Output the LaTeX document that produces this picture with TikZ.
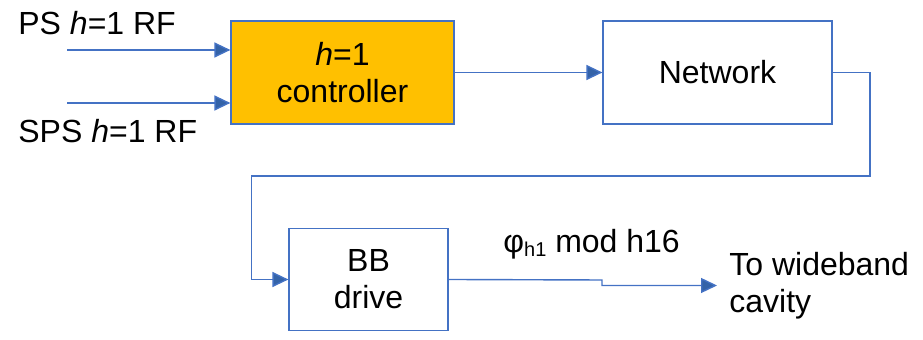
\documentclass[tikz,border=0pt]{standalone}
\usepackage{fontspec}
\setmainfont{Liberation Sans}
\usetikzlibrary{positioning,arrows.meta}

\definecolor{lineblue}{HTML}{4472C4}
\definecolor{tipblue}{HTML}{3463A8}
\definecolor{ctrlorange}{HTML}{FFC000}

\tikzset{
	blockpicture/.style = {
		x = 0.5pt,
		y = -0.5pt,
		font = \fontsize{16}{18.5}\selectfont,
		arrow/.style = {
			draw = lineblue,
			line width = 0.7pt,
			-{Triangle[length=8pt, width=7.5pt, fill=tipblue]},
		},
		wire/.style = {
			draw = lineblue,
			line width = 0.7pt,
		}
	},
	blocknode/.style = {
		rectangle,
		draw = lineblue,
		line width = 0.6pt,
		align = center,
		inner sep = 0pt
	},
	ctrlnode/.style = {
		fill = ctrlorange
	},
	labelnode/.style = {
		inner sep = 0pt,
		anchor = base west
	}
}

\begin{document}
\begin{tikzpicture}[blockpicture]
	\useasboundingbox (0,0) rectangle (923,340);

	\node[blocknode, ctrlnode, minimum width = 111.5pt, minimum height = 51.5pt] (ctrl) at (342.5,72.5) {\textit{h}=1\\controller};
	\node[blocknode, minimum width = 114.5pt, minimum height = 51.5pt] (net) at (717.5,72.5) {Network};
	\node[blocknode, minimum width = 79.5pt, minimum height = 51pt] (bb) at (368.5,279.5) {BB\\drive};

	\node[labelnode] (ps) at (18,35) {PS \textit{h}=1 RF};
	\node[labelnode] (sps) at (18,143) {SPS \textit{h}=1 RF};

	\coordinate (psin) at (67,50);
	\coordinate (spsin) at (67,103);
	\coordinate (turnR) at (870,176);
	\coordinate (turnL) at (251.5,176);
	\coordinate (jog) at (602,280);
	\coordinate (cav) at (717,285.5);

	\node[labelnode] (phase) at (503,253) {φ\raisebox{-0.2ex}{\fontsize{10}{10}\selectfont h1} mod h16};
	\node[right = 6pt of cav, inner sep = 0pt, align = left] (wide) {To wideband\\cavity};

	\begin{scope}[every path/.style = arrow]
		\path (psin) -- (psin -| ctrl.west);
		\path (spsin) -- (spsin -| ctrl.west);

		\path (ctrl) -- (net);

		\path (net.east) -| (turnR) -- (turnL) |- (bb.west);

		\path (bb.east) -- (jog) |- (cav);
	\end{scope}
\end{tikzpicture}
\end{document}
